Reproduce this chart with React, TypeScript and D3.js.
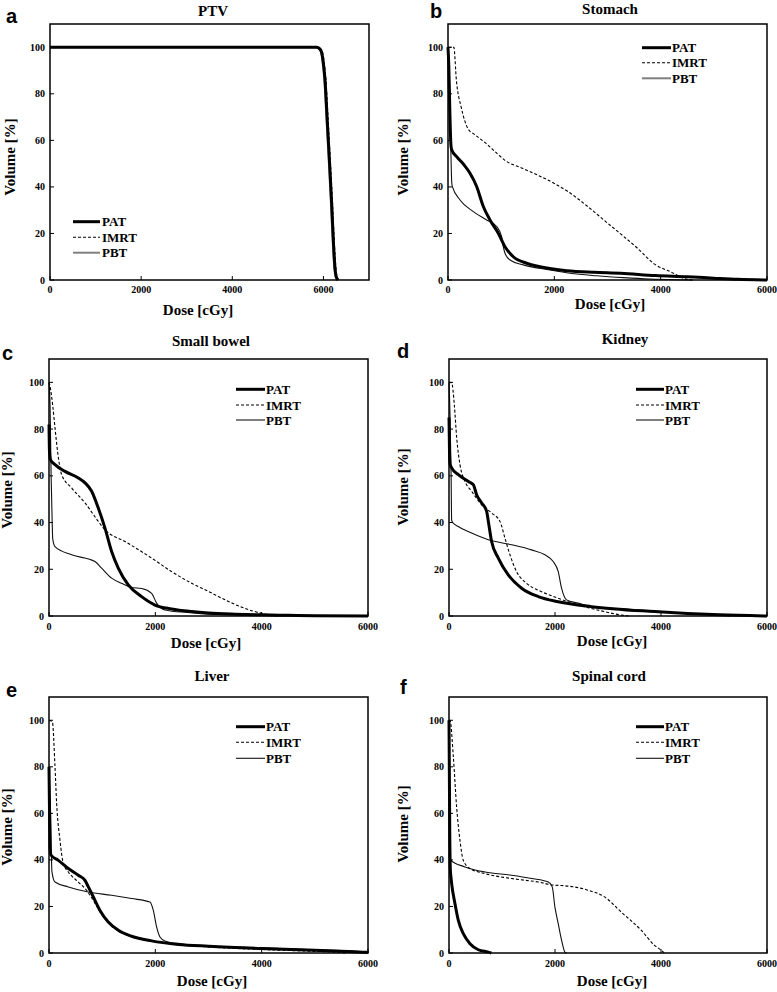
import React from "react";
import * as d3 from "d3";

type Pt = [number, number];

// ---------- data (dose cGy, volume %) ----------
const seriesNames = ["PAT", "IMRT", "PBT"];
const yTicks = [0, 20, 40, 60, 80, 100];
const xTicks = [0, 2000, 4000, 6000];

const ptvPAT: Pt[] = [[0,100],[5850,100],[5920,99.3],[5962,97.7],[6000,93],[6035,86],[6080,70],[6130,52],[6180,33],[6220,16],[6254,5],[6280,1.5],[6320,0]];
const ptvIMRT: Pt[] = [[0,100],[5870,100],[5940,99.3],[5982,97.7],[6020,93],[6055,86],[6100,70],[6150,52],[6200,33],[6240,16],[6275,5],[6300,1.5],[6345,0]];
const ptvPBT: Pt[] = [[0,100],[5835,100],[5905,99.3],[5947,97.7],[5985,93],[6020,86],[6065,70],[6115,52],[6165,33],[6205,16],[6240,5],[6265,1.5],[6305,0]];

const stoPAT: Pt[] = [[0,100],[15,92],[35,72],[55,58],[69,56],[163,53],[300,49.5],[414,45.9],[539,40.2],[664,31.6],[790,25.8],[946,20.1],[1072,14.3],[1228,10],[1480,7.2],[1730,5.7],[2232,4.0],[2750,3.3],[3250,2.9],[3900,1.9],[4510,1.4],[5000,0.8],[5450,0.3],[6000,0]];
const stoIMRT: Pt[] = [[0,100],[110,100],[157,86],[251,74],[376,65],[501,62.5],[700,59],[940,54],[1066,51.5],[1400,48],[1692,45],[2000,41.5],[2256,38],[2632,31.5],[2945,25.5],[3258,19.6],[3571,13.5],[3885,6.8],[4198,3.4],[4386,1.2],[4500,0.3],[4600,0]];
const stoPBT: Pt[] = [[0,100],[25,88],[50,60],[70,42],[81,40.2],[226,34.4],[476,29.4],[727,25.8],[915,23],[1009,18.6],[1040,14.3],[1072,11.5],[1166,8.6],[1416,6.5],[1918,4.3],[2294,2.9],[2800,1.8],[3300,1.0],[3800,0.4],[4300,0.1],[4600,0]];

const sbPAT: Pt[] = [[0,82],[10,70],[25,67],[113,64.8],[301,61.9],[551,59.1],[677,57],[802,53.4],[927,46.2],[1053,37.6],[1178,27.6],[1303,20.5],[1491,13.3],[1742,8.3],[1993,4.7],[2306,3],[2683,1.9],[3000,1.3],[3500,0.8],[4000,0.5],[4500,0.3],[5000,0.1],[6000,0]];
const sbIMRT: Pt[] = [[0,100],[19,98.4],[70,90],[113,80.5],[169,69],[238,60.5],[426,54.8],[677,48.4],[927,40.5],[1053,36.9],[1429,31.9],[1930,24.8],[2306,19],[2683,14],[3000,10.5],[3350,6.5],[3653,3.5],[4029,1],[4200,0.3],[4300,0]];
const sbPBT: Pt[] = [[0,100],[20,90],[40,60],[60,40],[70,33],[113,29.7],[426,26.2],[865,23.3],[990,20.5],[1178,16.2],[1366,14],[1554,12.2],[1742,11.8],[1930,9.7],[2024,5.5],[2180,2.6],[2600,1.5],[3000,0.8],[4000,0.5],[5000,0.2],[5100,0]];

const kiPAT: Pt[] = [[0,85],[10,70],[20,65],[50,63.4],[176,60.5],[364,57.6],[458,56.2],[521,51.9],[616,48.4],[710,44.8],[742,40.5],[804,31.9],[930,24.8],[1118,17.6],[1370,11.9],[1684,8.3],[2061,6.1],[2690,4],[3877,1.9],[5100,0.5],[6000,0]];
const kiIMRT: Pt[] = [[0,100],[50,99.9],[100,90.5],[145,76.3],[207,64.8],[301,57.6],[427,53.4],[616,47.6],[804,44.1],[961,40.5],[1056,33.3],[1150,26.2],[1275,19],[1464,14],[1747,10.4],[2061,7.6],[2437,4.7],[2800,2.6],[3200,0.6],[3400,0]];
const kiPBT: Pt[] = [[0,100],[20,85],[40,60],[50,41],[70,40],[176,38.3],[427,35.5],[742,32.6],[1181,30.5],[1558,28.3],[1810,26.2],[1966,23.3],[2061,19],[2124,11.9],[2218,6.9],[2437,5.5],[2690,4],[3563,2.6],[4505,1.1],[5130,0.3],[5300,0]];

const liPAT: Pt[] = [[0,80],[10,60],[20,45],[40,42],[176,39.8],[364,36.3],[552,33.4],[677,31.2],[740,28.4],[834,24.1],[959,18.3],[1115,13.3],[1303,9.8],[1554,7.2],[1930,5.2],[2431,3.7],[3000,2.9],[4000,1.9],[5000,1.2],[5500,0.8],[5970,0.3],[6000,0]];
const liIMRT: Pt[] = [[0,100],[63,99.3],[113,80],[144,64.2],[207,48.4],[270,38.4],[364,34.8],[552,30.5],[708,26.9],[834,22.6],[959,17.8],[1115,13],[1303,9.5],[1554,7],[2000,4.8],[2500,3.5],[3000,2.6],[4000,1.5],[5000,0.7],[5500,0.2],[5600,0]];
const liPBT: Pt[] = [[0,80],[30,60],[55,35],[113,30.5],[364,28.4],[740,26.2],[1178,24.8],[1554,23.4],[1899,21.9],[1962,18.3],[2024,11.2],[2087,6.9],[2181,5.2],[2500,3.9],[3000,3.0],[4000,2.2],[5000,1.4],[5500,1.0],[6000,0.4]];

const scPAT: Pt[] = [[0,100],[15,50],[25,36],[40,32],[50,29.8],[113,21.2],[176,14],[270,8.3],[396,4],[553,1.4],[742,0.4],[800,0]];
const scIMRT: Pt[] = [[0,100],[19,100],[82,84.2],[144,62.7],[207,48.4],[270,39.8],[396,36.3],[679,34.1],[1181,32],[1684,30.5],[1998,29.1],[2117,29],[2620,27],[2935,24.1],[3249,17.6],[3625,9.8],[3877,3.3],[4002,1.2],[4060,0]];
const scPBT: Pt[] = [[0,42],[19,40],[301,37],[679,34.8],[1181,33.4],[1558,32],[1872,30.5],[1948,28.4],[1998,19.8],[2061,12.6],[2124,5.5],[2187,0.4],[2220,0]];

// ---------- layout ----------
interface PanelCfg {
  letter: string; title: string; xMax: number;
  series: Pt[][];
  frame: [number, number, number, number];
  letterPos: [number, number];
  titlePos: [number, number];
  yLabelPos: [number, number];
  xLabelPos: [number, number];
  xTickY: number;
  legend: { x0: number; x1: number; tx: number; ys: number[] };
  pbtGrayLegend: boolean;
  pbtGrayLine: boolean;
}

const panels: PanelCfg[] = [
  { letter: "a", title: "PTV", xMax: 7000, series: [ptvPAT, ptvIMRT, ptvPBT],
    frame: [50, 24, 369, 280], letterPos: [6, 23], titlePos: [213, 16], yLabelPos: [15, 157], xLabelPos: [198, 315], xTickY: 293,
    legend: { x0: 73, x1: 100, tx: 102, ys: [221.7, 237.3, 252.7] }, pbtGrayLegend: true, pbtGrayLine: true },
  { letter: "b", title: "Stomach", xMax: 6000, series: [stoPAT, stoIMRT, stoPBT],
    frame: [448, 24, 767, 280], letterPos: [430, 18], titlePos: [610, 14], yLabelPos: [408, 157], xLabelPos: [610, 309], xTickY: 293,
    legend: { x0: 642, x1: 671, tx: 672, ys: [47.7, 62.7, 78.3] }, pbtGrayLegend: true, pbtGrayLine: false },
  { letter: "c", title: "Small bowel", xMax: 6000, series: [sbPAT, sbIMRT, sbPBT],
    frame: [49, 359, 368, 616], letterPos: [2, 360], titlePos: [211, 346], yLabelPos: [12, 490], xLabelPos: [206, 648], xTickY: 630,
    legend: { x0: 236, x1: 265, tx: 266, ys: [389.3, 405, 420] }, pbtGrayLegend: true, pbtGrayLine: false },
  { letter: "d", title: "Kidney", xMax: 6000, series: [kiPAT, kiIMRT, kiPBT],
    frame: [449, 359, 767, 616], letterPos: [397, 358], titlePos: [625, 344], yLabelPos: [408, 487], xLabelPos: [612, 646], xTickY: 630,
    legend: { x0: 636, x1: 664, tx: 665, ys: [389.3, 405, 420] }, pbtGrayLegend: true, pbtGrayLine: false },
  { letter: "e", title: "Liver", xMax: 6000, series: [liPAT, liIMRT, liPBT],
    frame: [49, 697, 368, 953], letterPos: [6, 697], titlePos: [212, 681], yLabelPos: [12, 827], xLabelPos: [212, 986], xTickY: 967,
    legend: { x0: 236, x1: 265, tx: 266, ys: [726.7, 742.3, 758.3] }, pbtGrayLegend: false, pbtGrayLine: false },
  { letter: "f", title: "Spinal cord", xMax: 6000, series: [scPAT, scIMRT, scPBT],
    frame: [449, 697, 767, 953], letterPos: [400, 694], titlePos: [609, 681], yLabelPos: [408, 824], xLabelPos: [612, 986], xTickY: 967,
    legend: { x0: 636, x1: 664, tx: 665, ys: [726.7, 742.3, 758.3] }, pbtGrayLegend: false, pbtGrayLine: false },
];

const SERIF = "'Liberation Serif', 'Times New Roman', serif";
const SANS = "'Liberation Sans', Arial, sans-serif";

function styleFor(i: number, p: PanelCfg, legend: boolean) {
  if (i === 0) return { stroke: "#000", strokeWidth: 3, dash: undefined as string | undefined };
  if (i === 1) return { stroke: "#000", strokeWidth: 1.1, dash: "3,2" };
  const gray = legend ? p.pbtGrayLegend : p.pbtGrayLine;
  return gray ? { stroke: "#7f7f7f", strokeWidth: 2, dash: undefined } : { stroke: "#111", strokeWidth: 1.1, dash: undefined };
}

function Panel({ p }: { p: PanelCfg }) {
  const [l, t, r, b] = p.frame;
  const x = d3.scaleLinear().domain([0, p.xMax]).range([l, r]);
  const y = d3.scaleLinear().domain([0, 110]).range([b, t]);
  const line = d3.line<Pt>().x((d) => x(d[0])).y((d) => y(d[1])).curve(d3.curveMonotoneX);
  const order = [2, 1, 0];
  return (
    <g>
      <text x={p.letterPos[0]} y={p.letterPos[1]} fontFamily={SANS} fontWeight="bold" fontSize={20}>{p.letter}</text>
      <text x={p.titlePos[0]} y={p.titlePos[1]} fontFamily={SERIF} fontWeight="bold" fontSize={15} textAnchor="middle">{p.title}</text>
      {order.map((i) => {
        const s = styleFor(i, p, false);
        return <path key={i} d={line(p.series[i]) || ""} fill="none" stroke={s.stroke} strokeWidth={s.strokeWidth} strokeDasharray={s.dash} strokeLinejoin="round" />;
      })}
      <rect x={l} y={t} width={r - l} height={b - t} fill="none" stroke="#000" strokeWidth={1.5} />
      {yTicks.map((v) => (
        <g key={"y" + v}>
          <line x1={l} x2={l + 4} y1={y(v)} y2={y(v)} stroke="#000" strokeWidth={1} />
          <text x={l - 5} y={y(v)} dy="0.35em" textAnchor="end" fontFamily={SERIF} fontWeight="bold" fontSize={10}>{v}</text>
        </g>
      ))}
      {xTicks.map((v) => (
        <g key={"x" + v}>
          <line x1={x(v)} x2={x(v)} y1={b} y2={b - 4} stroke="#000" strokeWidth={1} />
          <text x={x(v)} y={p.xTickY} textAnchor="middle" fontFamily={SERIF} fontWeight="bold" fontSize={10}>{v}</text>
        </g>
      ))}
      <text transform={`translate(${p.yLabelPos[0]},${p.yLabelPos[1]}) rotate(-90)`} textAnchor="middle" fontFamily={SERIF} fontWeight="bold" fontSize={15}>Volume [%]</text>
      <text x={p.xLabelPos[0]} y={p.xLabelPos[1]} textAnchor="middle" fontFamily={SERIF} fontWeight="bold" fontSize={15}>Dose [cGy]</text>
      {seriesNames.map((n, i) => {
        const s = styleFor(i, p, true);
        const ly = p.legend.ys[i];
        return (
          <g key={n}>
            <line x1={p.legend.x0} x2={p.legend.x1} y1={ly} y2={ly} stroke={s.stroke} strokeWidth={s.strokeWidth} strokeDasharray={s.dash} />
            <text x={p.legend.tx} y={ly} dy="0.35em" fontFamily={SERIF} fontWeight="bold" fontSize={13}>{n}</text>
          </g>
        );
      })}
    </g>
  );
}

export default function App() {
  return (
    <svg width={777} height={992} style={{ position: "absolute", left: 0, top: 0, background: "#fff" }}>
      <rect x={0} y={0} width={777} height={992} fill="#fff" />
      {panels.map((p) => <Panel key={p.letter} p={p} />)}
    </svg>
  );
}
